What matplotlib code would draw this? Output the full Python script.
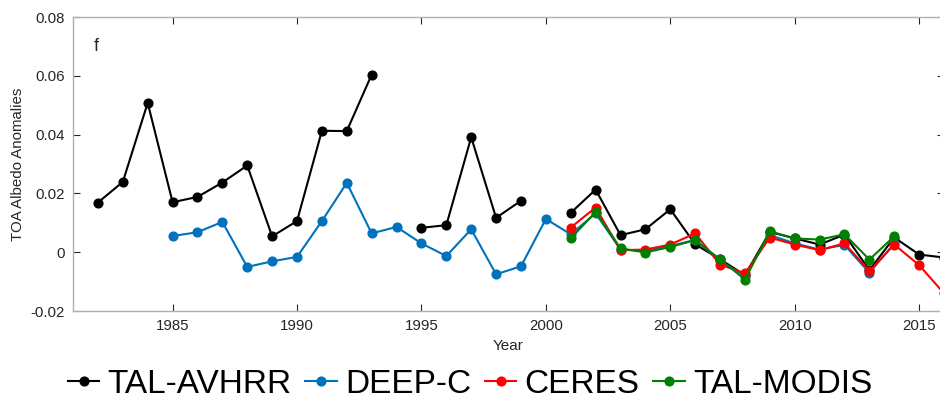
import numpy as np
import matplotlib
matplotlib.use('Agg')
import matplotlib.pyplot as plt

plt.rcParams['font.family'] = ['Liberation Sans', 'DejaVu Sans']

# -------------------------- data --------------------------
avhrr_years = [1982, 1983, 1984, 1985, 1986, 1987, 1988, 1989, 1990, 1991, 1992, 1993,
               np.nan,
               1995, 1996, 1997, 1998, 1999,
               np.nan,
               2001, 2002, 2003, 2004, 2005, 2006, 2007, 2008, 2009, 2010, 2011,
               2012, 2013, 2014, 2015, 2016]
avhrr_vals = [0.0169, 0.0239, 0.0508, 0.0170, 0.0188, 0.0237, 0.0295, 0.0054, 0.0106,
              0.0413, 0.0412, 0.0604,
              np.nan,
              0.0083, 0.0092, 0.0391, 0.0117, 0.0175,
              np.nan,
              0.0134, 0.0213, 0.0058, 0.0078, 0.0146, 0.0027, -0.0024, -0.0078,
              0.0069, 0.0047, 0.0026, 0.0060, -0.0061, 0.0050, -0.0008, -0.0018]

deepc_years = list(range(1985, 2015))
deepc_vals = [0.0055, 0.0068, 0.0103, -0.0050, -0.0031, -0.0016, 0.0106, 0.0236,
              0.0064, 0.0086, 0.0030, -0.0013, 0.0078, -0.0075, -0.0048, 0.0113,
              0.0061, 0.0132, 0.0009, 0.0004, 0.0021, 0.0042, -0.0030, -0.0080,
              0.0058, 0.0030, 0.0009, 0.0025, -0.0070, 0.0030]

ceres_years = list(range(2001, 2017))
ceres_vals = [0.0084, 0.0152, 0.0007, 0.0009, 0.0026, 0.0064, -0.0042, -0.0072,
              0.0050, 0.0026, 0.0007, 0.0030, -0.0064, 0.0026, -0.0044, -0.0140]

modis_years = list(range(2001, 2015))
modis_vals = [0.0047, 0.0137, 0.0013, -0.0001, 0.0018, 0.0041, -0.0024, -0.0093,
              0.0071, 0.0047, 0.0043, 0.0061, -0.0025, 0.0054]

x_ticks = [1985, 1990, 1995, 2000, 2005, 2010, 2015]
y_ticks = [-0.02, 0, 0.02, 0.04, 0.06, 0.08]
y_ticklabels = ['-0.02', '0', '0.02', '0.04', '0.06', '0.08']

series = [
    ('TAL-AVHRR', avhrr_years, avhrr_vals, '#000000'),
    ('DEEP-C', deepc_years, deepc_vals, '#0072BD'),
    ('CERES', ceres_years, ceres_vals, '#FF0000'),
    ('TAL-MODIS', modis_years, modis_vals, '#008000'),
]

# -------------------------- plot --------------------------
fig = plt.figure(figsize=(9.4, 4.01), dpi=100)
ax = fig.add_axes([0.0777, 0.2244, 0.9266, 0.7332])

for name, xs, ys, c in series:
    ax.plot(xs, ys, '-o', color=c, lw=1.5, ms=6.3, label=name)

ax.set_xlim(1981, 2016)
ax.set_ylim(-0.02, 0.08)
ax.set_xticks(x_ticks)
ax.set_yticks(y_ticks)
ax.set_yticklabels(y_ticklabels)
ax.tick_params(direction='in', top=True, right=True, length=5, width=0.8,
               color='#262626', labelsize=10.8, labelcolor='#262626', pad=6)
for s in ax.spines.values():
    s.set_color('#b0b0b0')
    s.set_linewidth(1.0)

ax.set_xlabel('Year', fontsize=11, color='#262626', labelpad=4)
ax.set_ylabel('TOA Albedo Anomalies', fontsize=10.8, color='#262626', labelpad=4)
ax.text(0.024, 0.885, 'f', transform=ax.transAxes, fontsize=13, color='#262626')

leg = fig.legend(loc='center', bbox_to_anchor=(0.5, 0.042), ncol=4, frameon=False,
                 fontsize=24, handlelength=0.95, handletextpad=0.25,
                 columnspacing=0.4, borderaxespad=0, borderpad=0)

fig.savefig('out.png', dpi=100)
